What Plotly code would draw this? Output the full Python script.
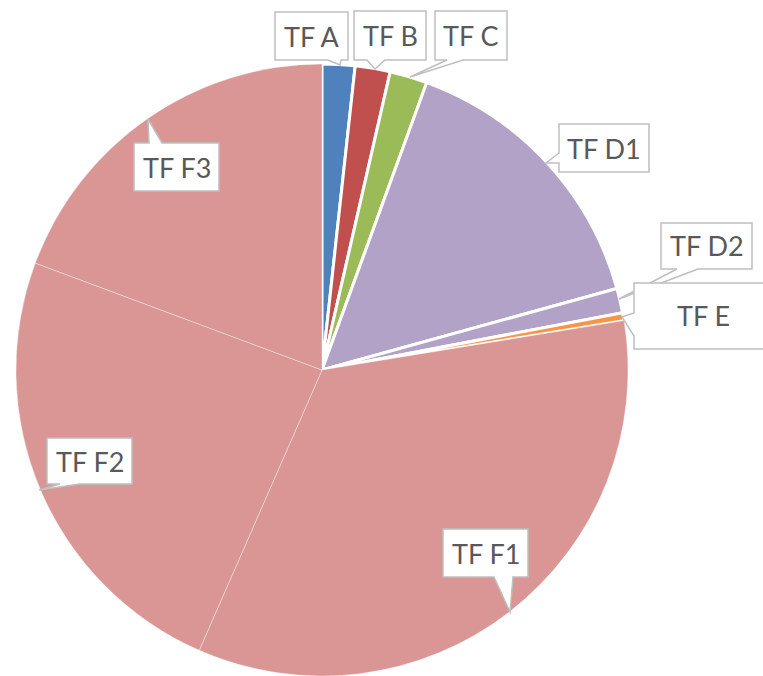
import plotly.graph_objects as go

labels = ["TF A", "TF B", "TF C", "TF D1", "TF D2", "TF E", "TF F1", "TF F2", "TF F3"]
values = [1.73, 1.85, 1.98, 15.15, 1.29, 0.42, 34.15, 24.11, 19.32]
colors = ["#4F81BD", "#C0504D", "#9BBB59", "#B3A2C7", "#B3A2C7", "#F79646",
          "#D99694", "#D99694", "#D99694"]

W, H = 763, 676
line_colors = ["white"] * 6 + ["rgba(255,255,255,0.35)"] * 3
line_widths = [3] * 6 + [1] * 3

fig = go.Figure(go.Pie(
    labels=labels, values=values, sort=False, direction="clockwise", rotation=0,
    marker=dict(colors=colors, line=dict(color=line_colors, width=line_widths)),
    textinfo="none", hoverinfo="label+value", showlegend=False,
    domain=dict(x=[16 / W, 628 / W], y=[0, 612 / H]),
))

# callout boxes: (label, L, T, R, B, side, a, b, tipx, tipy, textx)
callouts = [
    ("TF A", 275, 12, 348, 60, "bottom", 328, 341, 340, 65, None),
    ("TF B", 354, 11, 426, 60, "bottom", 367, 385, 375, 69, None),
    ("TF C", 435, 11, 507, 60, "bottom", 447, 463, 410, 77, None),
    ("TF D1", 559, 124, 649, 172, "left", 153, 163, 546, 163, None),
    ("TF D2", 661, 223, 752, 269, "bottom", 677, 698, 619, 299, None),
    ("TF E", 634, 283, 770, 349, "left", 313, 336, 622, 317, 703),
    ("TF F3", 134, 143, 219, 191, "top", 149, 162, 148, 119, None),
    ("TF F2", 47, 438, 132, 484, "bottom", 60, 80, 39, 490, None),
    ("TF F1", 443, 529, 528, 577, "bottom", 494, 513, 510, 612, None),
]


def P(x, y):
    return f"{x / W:.5f},{1 - y / H:.5f}"


shapes = []
annotations = []
for (txt, L, T, R, B, side, a, b, tx, ty, cx) in callouts:
    if side == "bottom":
        pts = [(L, T), (R, T), (R, B), (b, B), (tx, ty), (a, B), (L, B)]
    elif side == "top":
        pts = [(L, T), (a, T), (tx, ty), (b, T), (R, T), (R, B), (L, B)]
    else:  # left
        pts = [(L, T), (R, T), (R, B), (L, B), (L, b), (tx, ty), (L, a)]
    path = "M" + " L".join(P(x, y) for x, y in pts) + " Z"
    shapes.append(dict(type="path", xref="paper", yref="paper", path=path,
                       fillcolor="white", line=dict(color="#BFBFBF", width=1.5)))
    xc = cx if cx is not None else (L + R) / 2
    annotations.append(dict(text=txt, x=xc / W, y=1 - ((T + B) / 2) / H,
                            xref="paper", yref="paper", showarrow=False,
                            xanchor="center", yanchor="middle",
                            font=dict(family="Lato", size=27, color="#595959")))

fig.update_layout(width=W, height=H, margin=dict(l=0, r=0, t=0, b=0),
                  paper_bgcolor="white", plot_bgcolor="white",
                  shapes=shapes, annotations=annotations)
fig.write_html("out.html", config={"displayModeBar": False},
               post_script="document.body.style.margin='0';document.body.style.overflow='hidden';")
